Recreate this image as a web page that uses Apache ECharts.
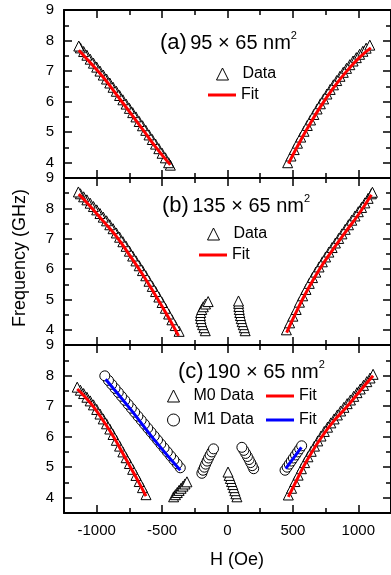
<!DOCTYPE html>
<html>
<head>
<meta charset="utf-8">
<script src="https://cdn.jsdelivr.net/npm/echarts@6/dist/echarts.min.js"></script>
<style>
  html, body { margin: 0; padding: 0; background: #fff; }
  #chart { width: 391px; height: 575px; }
</style>
</head>
<body>
<div id="chart"></div>
<script>
// [H (Oe), frequency (GHz)]
const aDataLeft = [[-437,3.92],[-450,4.00],[-475,4.16],[-500,4.31],[-525,4.46],[-550,4.61],[-575,4.76],[-600,4.91],[-625,5.06],[-650,5.21],[-675,5.35],[-700,5.50],[-725,5.64],[-750,5.78],[-775,5.92],[-800,6.06],[-825,6.20],[-850,6.34],[-875,6.47],[-900,6.61],[-925,6.74],[-950,6.87],[-975,7.00],[-1000,7.13],[-1025,7.26],[-1050,7.39],[-1075,7.52],[-1100,7.64],[-1125,7.76],[-1137,7.82]];
const aDataRight = [[460,4.00],[485,4.22],[510,4.43],[535,4.64],[560,4.84],[585,5.03],[610,5.22],[635,5.40],[660,5.58],[685,5.76],[710,5.93],[735,6.09],[760,6.25],[785,6.40],[810,6.55],[835,6.69],[860,6.83],[885,6.96],[910,7.09],[935,7.21],[960,7.33],[985,7.44],[1010,7.55],[1035,7.65],[1060,7.75],[1088,7.85]];
const aFitLeft = [[-1137,7.68],[-1050,7.28],[-950,6.80],[-850,6.24],[-750,5.67],[-650,5.10],[-550,4.52],[-437,3.93]];
const aFitRight = [[466,3.97],[535,4.54],[610,5.12],[710,5.83],[810,6.45],[910,6.99],[1010,7.45],[1096,7.76]];

const bDataLeft = [[-370,3.95],[-400,4.14],[-425,4.33],[-450,4.52],[-475,4.71],[-500,4.90],[-525,5.08],[-550,5.26],[-575,5.43],[-600,5.60],[-625,5.78],[-650,5.95],[-675,6.11],[-700,6.27],[-725,6.43],[-750,6.59],[-775,6.75],[-800,6.90],[-825,7.05],[-850,7.19],[-875,7.33],[-900,7.46],[-925,7.59],[-950,7.71],[-975,7.83],[-1000,7.95],[-1025,8.06],[-1050,8.17],[-1075,8.28],[-1100,8.38],[-1125,8.48],[-1140,8.54]];
const bDataRight = [[450,4.00],[475,4.23],[500,4.45],[525,4.67],[550,4.91],[575,5.12],[600,5.33],[625,5.53],[650,5.72],[675,5.90],[700,6.07],[725,6.24],[750,6.40],[775,6.56],[800,6.71],[825,6.86],[850,7.01],[875,7.16],[900,7.31],[925,7.46],[950,7.61],[975,7.75],[1000,7.89],[1025,8.03],[1050,8.18],[1075,8.33],[1100,8.48],[1108,8.53]];
const bDataMidLeft = [[-170,3.97],[-180,4.07],[-190,4.17],[-198,4.27],[-204,4.37],[-207,4.47],[-205,4.57],[-197,4.67],[-185,4.76],[-168,4.85],[-148,4.93]];
const bDataMidRight = [[135,3.97],[128,4.07],[120,4.17],[112,4.27],[105,4.37],[99,4.47],[94,4.57],[90,4.67],[87,4.77],[85,4.87],[84,4.95]];
const bFitLeft = [[-1137,8.47],[-1050,8.07],[-950,7.58],[-850,7.08],[-750,6.47],[-650,5.83],[-550,5.13],[-450,4.40],[-374,3.80]];
const bFitRight = [[452,3.91],[525,4.58],[600,5.22],[700,5.97],[800,6.61],[900,7.21],[1000,7.79],[1100,8.45]];

const cM0Left = [[-623,4.10],[-650,4.33],[-675,4.53],[-700,4.73],[-725,4.93],[-750,5.12],[-775,5.31],[-800,5.50],[-825,5.69],[-850,5.88],[-875,6.07],[-900,6.25],[-925,6.42],[-950,6.58],[-975,6.74],[-1000,6.89],[-1025,7.04],[-1050,7.17],[-1075,7.29],[-1100,7.41],[-1125,7.52],[-1149,7.62]];
const cM0Right = [[465,4.09],[490,4.31],[515,4.53],[540,4.74],[565,4.95],[590,5.15],[615,5.34],[640,5.52],[665,5.69],[690,5.86],[715,6.02],[740,6.17],[765,6.31],[790,6.45],[815,6.58],[840,6.71],[865,6.84],[890,6.96],[915,7.08],[940,7.20],[965,7.32],[990,7.44],[1015,7.56],[1040,7.68],[1065,7.80],[1090,7.92],[1113,8.04]];
const cM0MidLeft = [[-412,4.03],[-398,4.10],[-384,4.17],[-370,4.24],[-355,4.31],[-340,4.38],[-325,4.45],[-310,4.52]];
const cM0Mid = [[72,4.03],[64,4.13],[56,4.23],[48,4.33],[40,4.43],[31,4.53],[22,4.63],[13,4.73],[4,4.84]];
const cM1Left = [[-361,4.98],[-385,5.11],[-410,5.24],[-435,5.37],[-460,5.50],[-485,5.63],[-510,5.76],[-535,5.89],[-560,6.02],[-585,6.15],[-610,6.28],[-635,6.41],[-660,6.54],[-685,6.67],[-710,6.80],[-735,6.93],[-760,7.06],[-785,7.19],[-810,7.32],[-835,7.45],[-860,7.58],[-885,7.71],[-910,7.84],[-938,7.99]];
const cM1MidLeft = [[-196,4.80],[-187,4.90],[-177,5.00],[-167,5.10],[-156,5.20],[-145,5.30],[-133,5.40],[-120,5.50],[-107,5.60]];
const cM1MidRight = [[200,4.95],[189,5.05],[177,5.15],[165,5.25],[152,5.35],[139,5.45],[125,5.55],[110,5.65]];
const cM1Right = [[440,4.90],[456,5.00],[472,5.10],[488,5.20],[504,5.30],[520,5.40],[536,5.50],[552,5.60],[567,5.70]];
const cFitM0Left = [[-1149,7.56],[-1080,7.26],[-1021,6.96],[-950,6.52],[-869,5.98],[-800,5.45],[-742,5.00],[-680,4.52],[-623,4.05]];
const cFitM0Right = [[465,4.03],[520,4.50],[579,5.00],[650,5.53],[719,5.98],[810,6.50],[909,6.96],[1010,7.48],[1113,7.99]];
const cFitM1Left = [[-932,7.88],[-742,6.90],[-564,5.92],[-361,4.90]];
const cFitM1Right = [[445,4.95],[565,5.65]];

const xMajor = [-1000, -500, 0, 500, 1000];
const xMinor = [-750, -250, 250, 750];
const yMajor = [4, 5, 6, 7, 8, 9];
const yMinor = [4.5, 5.5, 6.5, 7.5, 8.5];

const font = 'Liberation Sans, Arial, sans-serif';
const gridTops = [10, 178, 345];
const gridHeights = [168, 167, 168];

function xAx(i, pos, ticks, len, main, label) {
  return {
    type: 'value', gridIndex: i, position: pos, min: -1250, max: 1250, interval: 250,
    axisLine: {show: main, onZero: false, lineStyle: {color: '#000', width: 2}},
    axisTick: {show: true, inside: true, length: len, customValues: ticks, lineStyle: {color: '#000', width: 1.5}},
    axisLabel: {show: label, customValues: ticks, color: '#000', fontSize: 15, fontFamily: font, margin: 10,
                formatter: v => String(v)},
    splitLine: {show: false}
  };
}
function yAx(i, pos, ticks, len, main, label) {
  return {
    type: 'value', gridIndex: i, position: pos, min: 3.5, max: 9, interval: 0.5,
    axisLine: {show: main, onZero: false, lineStyle: {color: '#000', width: 2}},
    axisTick: {show: true, inside: true, length: len, customValues: ticks, lineStyle: {color: '#000', width: 1.5}},
    axisLabel: {show: label, customValues: ticks, color: '#000', fontSize: 15, fontFamily: font, margin: 10},
    splitLine: {show: false}
  };
}

const grids = [], xAxes = [], yAxes = [];
gridTops.forEach((t, i) => {
  grids.push({left: 64, width: 328, top: t, height: gridHeights[i]});
  xAxes.push(xAx(i, 'bottom', xMajor, 8, true, i === 2));
  xAxes.push(xAx(i, 'bottom', xMinor, 5, false, false));
  xAxes.push(xAx(i, 'top', xMajor, 8, true, false));
  xAxes.push(xAx(i, 'top', xMinor, 5, false, false));
  yAxes.push(yAx(i, 'left', yMajor, 8, true, true));
  yAxes.push(yAx(i, 'left', yMinor, 5, false, false));
  yAxes.push(yAx(i, 'right', yMajor, 8, true, false));
  yAxes.push(yAx(i, 'right', yMinor, 5, false, false));
});

function pts(name, i, symbol, data) {
  return {
    name: name, type: 'scatter', xAxisIndex: i * 4, yAxisIndex: i * 4,
    symbol: symbol, symbolSize: 10, data: data, silent: true,
    itemStyle: {color: '#fff', borderColor: '#000', borderWidth: 1, opacity: 1}
  };
}
function fit(name, i, color, data) {
  return {
    name: name, type: 'line', xAxisIndex: i * 4, yAxisIndex: i * 4,
    data: data, smooth: true, symbol: 'none', showSymbol: false, silent: true,
    lineStyle: {color: color, width: 3}, itemStyle: {color: color}, z: 5
  };
}

const series = [
  pts('Data', 0, 'triangle', aDataLeft.concat(aDataRight)),
  fit('Fit', 0, '#ff0000', aFitLeft),
  fit('Fit', 0, '#ff0000', aFitRight),
  pts('Data', 1, 'triangle', bDataLeft.concat(bDataRight, bDataMidLeft, bDataMidRight)),
  fit('Fit', 1, '#ff0000', bFitLeft),
  fit('Fit', 1, '#ff0000', bFitRight),
  pts('M0 Data', 2, 'triangle', cM0Left.concat(cM0Right, cM0MidLeft, cM0Mid)),
  pts('M1 Data', 2, 'circle', cM1Left.concat(cM1MidLeft, cM1MidRight, cM1Right)),
  fit('Fit', 2, '#ff0000', cFitM0Left),
  fit('Fit', 2, '#ff0000', cFitM0Right),
  fit('Fit ', 2, '#0000ff', cFitM1Left),
  fit('Fit ', 2, '#0000ff', cFitM1Right)
];

// symbol legends: small square icon box so the triangle / circle keep their shape
function legSym(left, top, names) {
  return {
    orient: 'vertical', left: left, top: top, padding: 0, itemGap: 8,
    itemWidth: 12, itemHeight: 12, selectedMode: false, data: names,
    itemStyle: {borderWidth: 1, borderColor: '#000', color: '#fff'},
    formatter: name => '  ' + name,
    textStyle: {color: '#000', fontSize: 16, fontFamily: font}
  };
}
// line legends: flat bar icon
function legLine(left, top, names) {
  return {
    orient: 'vertical', left: left, top: top, padding: 0, itemGap: 8,
    itemWidth: 28, itemHeight: 3, selectedMode: false,
    data: names.map(n => ({name: n, icon: 'rect'})),
    textStyle: {color: '#000', fontSize: 16, fontFamily: font}
  };
}

function title(x, y, tag, size) {
  return {
    type: 'text', x: x, y: y,
    style: {
      text: '{p|' + tag + '} {t|' + size + '}{s|2}',
      verticalAlign: 'middle', fill: '#000',
      rich: {
        p: {fontSize: 22, fontFamily: font, lineHeight: 24},
        t: {fontSize: 20, fontFamily: font, lineHeight: 24},
        s: {fontSize: 11, fontFamily: font, lineHeight: 24, padding: [0, 0, 14, 0]}
      }
    }
  };
}

const chart = echarts.init(document.getElementById('chart'));
chart.setOption({
  animation: false,
  backgroundColor: '#fff',
  grid: grids,
  xAxis: xAxes,
  yAxis: yAxes,
  legend: [
    legSym(216, 66, ['Data']),
    legLine(208, 87, ['Fit']),
    legSym(207, 226, ['Data']),
    legLine(199, 247, ['Fit']),
    legSym(167, 388, ['M0 Data', 'M1 Data']),
    legLine(266, 388, ['Fit', 'Fit '])
  ],
  graphic: [
    title(160, 43, '(a)', '95 × 65 nm'),
    title(162, 206, '(b)', '135 × 65 nm'),
    title(178, 372, '(c)', '190 × 65 nm'),
    {type: 'text', x: 237, y: 560, style: {text: 'H (Oe)', fontSize: 18, fontFamily: font, fill: '#000', align: 'center', verticalAlign: 'middle'}},
    {type: 'text', x: 20, y: 258, rotation: Math.PI / 2, style: {text: 'Frequency (GHz)', fontSize: 18, fontFamily: font, fill: '#000', align: 'center', verticalAlign: 'middle'}}
  ],
  series: series
});
</script>
</body>
</html>
